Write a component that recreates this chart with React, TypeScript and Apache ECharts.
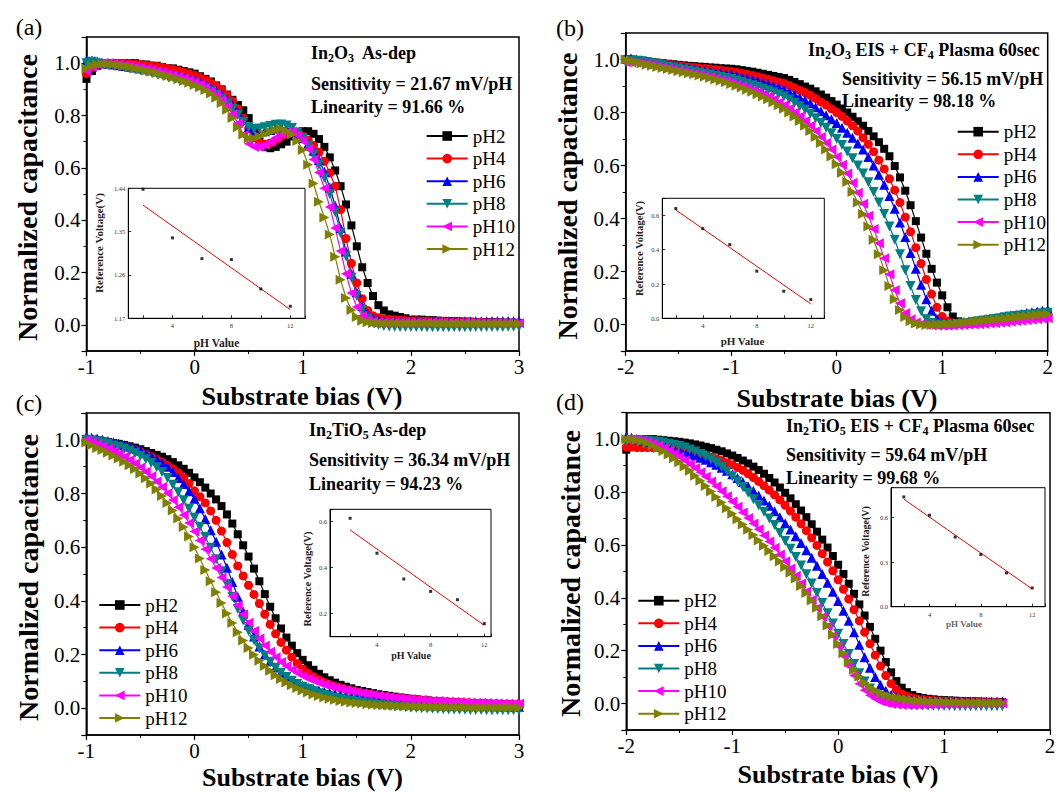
import React, { useEffect, useRef } from 'react';
import * as echarts from 'echarts';

// ---------- bias sweeps (V) ----------
const biasA = [
  -1,-0.95,-0.9,-0.85,-0.8,-0.75,-0.7,-0.65,-0.6,-0.55,
  -0.5,-0.45,-0.4,-0.35,-0.3,-0.25,-0.2,-0.15,-0.1,-0.05,
  0,0.05,0.1,0.15,0.2,0.25,0.3,0.35,0.4,0.45,
  0.5,0.55,0.6,0.65,0.7,0.75,0.8,0.85,0.9,0.95,
  1,1.05,1.1,1.15,1.2,1.25,1.3,1.35,1.4,1.45,
  1.5,1.55,1.6,1.65,1.7,1.75,1.8,1.85,1.9,1.95,
  2,2.05,2.1,2.15,2.2,2.25,2.3,2.35,2.4,2.45,
  2.5,2.55,2.6,2.65,2.7,2.75,2.8,2.85,2.9,2.95,
  3
];
const biasB = [
  -2,-1.95,-1.9,-1.85,-1.8,-1.75,-1.7,-1.65,-1.6,-1.55,
  -1.5,-1.45,-1.4,-1.35,-1.3,-1.25,-1.2,-1.15,-1.1,-1.05,
  -1,-0.95,-0.9,-0.85,-0.8,-0.75,-0.7,-0.65,-0.6,-0.55,
  -0.5,-0.45,-0.4,-0.35,-0.3,-0.25,-0.2,-0.15,-0.1,-0.05,
  0,0.05,0.1,0.15,0.2,0.25,0.3,0.35,0.4,0.45,
  0.5,0.55,0.6,0.65,0.7,0.75,0.8,0.85,0.9,0.95,
  1,1.05,1.1,1.15,1.2,1.25,1.3,1.35,1.4,1.45,
  1.5,1.55,1.6,1.65,1.7,1.75,1.8,1.85,1.9,1.95,
  2
];
const biasD = [
  -2,-1.95,-1.9,-1.85,-1.8,-1.75,-1.7,-1.65,-1.6,-1.55,
  -1.5,-1.45,-1.4,-1.35,-1.3,-1.25,-1.2,-1.15,-1.1,-1.05,
  -1,-0.95,-0.9,-0.85,-0.8,-0.75,-0.7,-0.65,-0.6,-0.55,
  -0.5,-0.45,-0.4,-0.35,-0.3,-0.25,-0.2,-0.15,-0.1,-0.05,
  0,0.05,0.1,0.15,0.2,0.25,0.3,0.35,0.4,0.45,
  0.5,0.55,0.6,0.65,0.7,0.75,0.8,0.85,0.9,0.95,
  1,1.05,1.1,1.15,1.2,1.25,1.3,1.35,1.4,1.45,
  1.5,1.55
];

// ---------- (a) In2O3 As-dep ----------
const a_pH2 = [
  0.94,0.97,0.99,1.0,1.0,1.0,1.0,1.0,1.0,1.0,
  0.995,0.995,0.99,0.99,0.985,0.98,0.98,0.975,0.97,0.965,
  0.96,0.95,0.94,0.93,0.915,0.9,0.88,0.86,0.84,0.82,
  0.79,0.75,0.7,0.68,0.675,0.68,0.69,0.7,0.72,0.73,
  0.74,0.74,0.73,0.71,0.68,0.64,0.59,0.53,0.46,0.38,
  0.3,0.22,0.16,0.11,0.075,0.055,0.04,0.035,0.03,0.025,
  0.02,0.02,0.02,0.018,0.018,0.016,0.015,0.015,0.014,0.013,
  0.012,0.012,0.011,0.01,0.01,0.01,0.009,0.008,0.008,0.008,
  0.007
];
const a_pH4 = [
  0.96,0.985,0.995,1.0,1.0,1.0,1.0,1.0,0.998,0.996,
  0.994,0.992,0.99,0.987,0.984,0.98,0.976,0.971,0.966,0.96,
  0.953,0.945,0.936,0.925,0.912,0.897,0.878,0.855,0.826,0.79,
  0.75,0.715,0.695,0.69,0.695,0.705,0.72,0.73,0.735,0.73,
  0.72,0.705,0.685,0.66,0.625,0.58,0.53,0.44,0.33,0.235,
  0.16,0.1,0.055,0.035,0.027,0.023,0.02,0.019,0.018,0.017,
  0.016,0.016,0.015,0.015,0.014,0.014,0.013,0.013,0.012,0.012,
  0.011,0.011,0.01,0.01,0.01,0.009,0.009,0.008,0.008,0.008,
  0.007
];
const a_pH6 = [
  1.01,1.01,1.005,1.0,0.998,0.995,0.992,0.989,0.986,0.983,
  0.98,0.977,0.973,0.969,0.965,0.96,0.955,0.95,0.945,0.94,
  0.934,0.927,0.918,0.908,0.895,0.88,0.862,0.84,0.812,0.782,
  0.755,0.742,0.737,0.74,0.745,0.75,0.753,0.75,0.742,0.73,
  0.713,0.692,0.665,0.63,0.585,0.525,0.455,0.37,0.28,0.195,
  0.125,0.072,0.04,0.025,0.018,0.015,0.014,0.013,0.013,0.013,
  0.013,0.013,0.013,0.013,0.013,0.013,0.013,0.013,0.013,0.014,
  0.014,0.014,0.014,0.014,0.014,0.015,0.015,0.015,0.015,0.015,
  0.015
];
const a_pH8 = [
  1.0,1.005,1.0,0.997,0.994,0.99,0.987,0.984,0.98,0.977,
  0.973,0.969,0.965,0.961,0.956,0.951,0.946,0.94,0.934,0.928,
  0.921,0.913,0.904,0.893,0.88,0.865,0.847,0.826,0.802,0.776,
  0.755,0.748,0.75,0.755,0.76,0.765,0.766,0.762,0.752,0.735,
  0.713,0.685,0.652,0.612,0.562,0.5,0.43,0.35,0.262,0.18,
  0.11,0.058,0.025,0.008,0.0,-0.004,-0.006,-0.007,-0.008,-0.008,
  -0.008,-0.008,-0.008,-0.009,-0.009,-0.009,-0.009,-0.009,-0.009,-0.009,
  -0.009,-0.009,-0.008,-0.008,-0.008,-0.008,-0.008,-0.008,-0.007,-0.007,
  -0.007
];
const a_pH10 = [
  0.97,0.985,0.995,1.0,1.0,0.998,0.996,0.993,0.99,0.987,
  0.983,0.979,0.975,0.97,0.965,0.96,0.954,0.948,0.941,0.934,
  0.926,0.917,0.906,0.893,0.877,0.858,0.835,0.806,0.77,0.725,
  0.692,0.68,0.68,0.688,0.7,0.715,0.728,0.737,0.738,0.725,
  0.703,0.672,0.632,0.582,0.522,0.45,0.37,0.282,0.195,0.122,
  0.068,0.034,0.018,0.012,0.01,0.009,0.009,0.009,0.009,0.009,
  0.009,0.009,0.009,0.009,0.009,0.009,0.008,0.008,0.008,0.008,
  0.008,0.008,0.008,0.007,0.007,0.007,0.007,0.007,0.007,0.006,
  0.006
];
const a_pH12 = [
  0.98,0.99,0.995,0.997,0.997,0.995,0.992,0.989,0.985,0.981,
  0.977,0.972,0.967,0.962,0.957,0.951,0.945,0.939,0.932,0.925,
  0.917,0.908,0.897,0.884,0.868,0.848,0.822,0.79,0.755,0.727,
  0.713,0.713,0.72,0.728,0.737,0.745,0.748,0.742,0.727,0.703,
  0.668,0.612,0.54,0.47,0.41,0.345,0.26,0.172,0.103,0.057,
  0.03,0.016,0.01,0.007,0.006,0.005,0.005,0.005,0.005,0.005,
  0.005,0.005,0.005,0.005,0.005,0.004,0.004,0.004,0.004,0.004,
  0.004,0.004,0.004,0.004,0.004,0.004,0.004,0.004,0.004,0.004,
  0.004
];

// ---------- (b) In2O3 EIS + CF4 plasma ----------
const b_pH2 = [
  1.0,1.0,0.998,0.995,0.993,0.99,0.988,0.986,0.984,0.982,
  0.98,0.978,0.976,0.975,0.973,0.972,0.97,0.969,0.967,0.966,
  0.965,0.963,0.96,0.957,0.954,0.95,0.946,0.942,0.938,0.934,
  0.93,0.923,0.915,0.907,0.898,0.89,0.88,0.868,0.856,0.843,
  0.83,0.815,0.8,0.784,0.767,0.75,0.73,0.71,0.688,0.663,
  0.635,0.598,0.555,0.505,0.45,0.39,0.328,0.267,0.21,0.158,
  0.11,0.065,0.03,0.012,0.005,0.004,0.005,0.007,0.01,0.012,
  0.015,0.018,0.02,0.022,0.025,0.027,0.03,0.032,0.035,0.037,
  0.04
];
const b_pH4 = [
  1.0,1.0,0.998,0.995,0.992,0.99,0.987,0.985,0.982,0.979,
  0.976,0.974,0.972,0.97,0.968,0.966,0.964,0.962,0.96,0.957,
  0.955,0.952,0.948,0.944,0.94,0.935,0.93,0.925,0.92,0.915,
  0.91,0.902,0.893,0.884,0.875,0.865,0.853,0.84,0.828,0.814,
  0.8,0.785,0.768,0.75,0.73,0.705,0.68,0.652,0.62,0.587,
  0.55,0.507,0.46,0.405,0.35,0.29,0.23,0.17,0.115,0.065,
  0.03,0.012,0.005,0.003,0.003,0.004,0.005,0.007,0.009,0.011,
  0.013,0.016,0.018,0.02,0.023,0.025,0.028,0.03,0.033,0.035,
  0.038
];
const b_pH6 = [
  1.005,1.005,1.0,0.997,0.993,0.99,0.986,0.983,0.98,0.977,
  0.973,0.97,0.967,0.964,0.961,0.958,0.955,0.952,0.95,0.947,
  0.944,0.94,0.935,0.93,0.925,0.92,0.914,0.908,0.901,0.895,
  0.888,0.878,0.868,0.857,0.846,0.835,0.82,0.805,0.79,0.775,
  0.76,0.742,0.724,0.705,0.683,0.66,0.632,0.6,0.565,0.527,
  0.485,0.437,0.385,0.33,0.27,0.21,0.15,0.095,0.052,0.022,
  0.008,0.004,0.004,0.006,0.008,0.01,0.013,0.016,0.019,0.022,
  0.025,0.028,0.031,0.034,0.037,0.04,0.043,0.046,0.049,0.052,
  0.055
];
const b_pH8 = [
  0.99,0.995,0.995,0.993,0.99,0.986,0.982,0.978,0.974,0.97,
  0.966,0.962,0.958,0.954,0.95,0.946,0.942,0.938,0.934,0.93,
  0.926,0.921,0.915,0.909,0.903,0.897,0.89,0.883,0.876,0.869,
  0.86,0.849,0.837,0.824,0.81,0.795,0.778,0.76,0.742,0.722,
  0.7,0.677,0.653,0.627,0.6,0.57,0.537,0.5,0.46,0.417,
  0.37,0.32,0.265,0.205,0.145,0.092,0.05,0.02,0.006,0.0,
  -0.002,-0.002,0.0,0.002,0.004,0.006,0.009,0.012,0.015,0.018,
  0.021,0.024,0.027,0.03,0.032,0.034,0.036,0.038,0.04,0.042,
  0.044
];
const b_pH10 = [
  0.99,0.99,0.988,0.985,0.982,0.978,0.974,0.97,0.966,0.962,
  0.958,0.954,0.95,0.946,0.942,0.938,0.933,0.928,0.923,0.918,
  0.912,0.906,0.899,0.892,0.884,0.876,0.868,0.859,0.849,0.838,
  0.827,0.814,0.8,0.785,0.768,0.75,0.73,0.708,0.685,0.66,
  0.633,0.603,0.57,0.535,0.497,0.456,0.41,0.36,0.307,0.25,
  0.19,0.13,0.08,0.043,0.02,0.008,0.002,-0.002,-0.004,-0.005,
  -0.005,-0.005,-0.004,-0.003,-0.002,-0.001,0.0,0.001,0.002,0.004,
  0.005,0.007,0.008,0.01,0.012,0.014,0.016,0.018,0.02,0.022,
  0.024
];
const b_pH12 = [
  1.0,0.995,0.99,0.985,0.98,0.976,0.972,0.968,0.964,0.96,
  0.956,0.952,0.948,0.944,0.94,0.935,0.93,0.925,0.92,0.914,
  0.908,0.901,0.894,0.886,0.878,0.869,0.86,0.85,0.839,0.827,
  0.814,0.8,0.785,0.768,0.75,0.73,0.708,0.685,0.66,0.634,
  0.605,0.573,0.538,0.5,0.46,0.417,0.37,0.32,0.265,0.205,
  0.145,0.095,0.055,0.028,0.012,0.004,0.0,-0.002,-0.002,-0.001,
  0.0,0.002,0.003,0.005,0.007,0.009,0.011,0.013,0.015,0.017,
  0.019,0.021,0.023,0.025,0.027,0.03,0.032,0.034,0.036,0.038,
  0.04
];

// ---------- (c) In2TiO5 As-dep ----------
const c_pH2 = [
  1.0,1.0,0.998,0.995,0.992,0.988,0.985,0.981,0.976,0.971,
  0.965,0.958,0.951,0.944,0.937,0.928,0.917,0.905,0.892,0.877,
  0.86,0.842,0.822,0.8,0.778,0.753,0.722,0.688,0.648,0.607,
  0.565,0.52,0.473,0.425,0.378,0.335,0.297,0.263,0.233,0.205,
  0.18,0.16,0.143,0.128,0.115,0.104,0.095,0.087,0.08,0.074,
  0.068,0.064,0.06,0.056,0.052,0.049,0.046,0.043,0.04,0.038,
  0.035,0.033,0.031,0.029,0.027,0.025,0.024,0.022,0.021,0.02,
  0.019,0.018,0.017,0.016,0.015,0.014,0.013,0.012,0.012,0.011,
  0.01
];
const c_pH4 = [
  1.0,1.0,0.997,0.994,0.99,0.986,0.981,0.976,0.97,0.963,
  0.955,0.947,0.938,0.928,0.917,0.905,0.892,0.877,0.86,0.837,
  0.81,0.788,0.765,0.735,0.7,0.66,0.617,0.573,0.53,0.493,
  0.458,0.424,0.39,0.35,0.312,0.277,0.245,0.216,0.19,0.166,
  0.146,0.13,0.117,0.106,0.096,0.088,0.081,0.075,0.07,0.065,
  0.06,0.056,0.052,0.049,0.046,0.043,0.04,0.038,0.036,0.034,
  0.032,0.03,0.029,0.027,0.026,0.025,0.024,0.023,0.022,0.021,
  0.02,0.019,0.018,0.018,0.017,0.016,0.016,0.015,0.015,0.014,
  0.014
];
const c_pH6 = [
  1.01,1.008,1.005,1.0,0.996,0.991,0.986,0.98,0.975,0.968,
  0.96,0.951,0.94,0.928,0.915,0.9,0.88,0.858,0.835,0.808,
  0.78,0.745,0.705,0.663,0.62,0.573,0.523,0.47,0.415,0.36,
  0.31,0.267,0.23,0.2,0.175,0.152,0.132,0.116,0.102,0.092,
  0.084,0.077,0.071,0.066,0.061,0.057,0.053,0.05,0.046,0.043,
  0.04,0.038,0.035,0.033,0.031,0.029,0.027,0.025,0.023,0.022,
  0.02,0.019,0.018,0.017,0.016,0.015,0.014,0.013,0.012,0.011,
  0.01,0.01,0.009,0.008,0.008,0.007,0.007,0.006,0.006,0.005,
  0.005
];
const c_pH8 = [
  1.0,0.998,0.994,0.99,0.985,0.979,0.973,0.966,0.958,0.95,
  0.94,0.928,0.914,0.898,0.88,0.858,0.833,0.805,0.775,0.743,
  0.71,0.675,0.638,0.598,0.555,0.51,0.463,0.415,0.37,0.327,
  0.288,0.253,0.222,0.195,0.171,0.15,0.132,0.116,0.102,0.09,
  0.08,0.071,0.063,0.056,0.05,0.044,0.039,0.035,0.031,0.027,
  0.024,0.021,0.018,0.016,0.013,0.011,0.009,0.007,0.005,0.004,
  0.002,0.001,0.0,-0.001,-0.002,-0.003,-0.004,-0.005,-0.005,-0.006,
  -0.006,-0.007,-0.007,-0.007,-0.008,-0.008,-0.008,-0.008,-0.008,-0.008,
  -0.008
];
const c_pH10 = [
  1.0,0.992,0.984,0.976,0.967,0.958,0.948,0.937,0.925,0.912,
  0.897,0.881,0.864,0.845,0.824,0.801,0.776,0.749,0.72,0.69,
  0.658,0.625,0.592,0.557,0.522,0.487,0.452,0.417,0.383,0.35,
  0.318,0.288,0.26,0.234,0.21,0.19,0.172,0.157,0.143,0.131,
  0.12,0.111,0.102,0.095,0.088,0.082,0.077,0.072,0.068,0.064,
  0.06,0.056,0.053,0.05,0.047,0.044,0.042,0.04,0.038,0.036,
  0.034,0.032,0.031,0.029,0.028,0.027,0.026,0.025,0.024,0.023,
  0.022,0.021,0.02,0.02,0.019,0.018,0.018,0.017,0.017,0.016,
  0.016
];
const c_pH12 = [
  0.99,0.98,0.97,0.962,0.952,0.942,0.93,0.918,0.905,0.891,
  0.875,0.857,0.837,0.815,0.791,0.765,0.737,0.707,0.675,0.64,
  0.6,0.558,0.515,0.473,0.432,0.392,0.353,0.317,0.283,0.252,
  0.224,0.199,0.177,0.157,0.139,0.123,0.109,0.096,0.085,0.075,
  0.066,0.058,0.051,0.045,0.04,0.035,0.031,0.027,0.024,0.021,
  0.019,0.017,0.015,0.013,0.012,0.011,0.01,0.009,0.008,0.007,
  0.006,0.006,0.005,0.005,0.004,0.004,0.004,0.003,0.003,0.003,
  0.003,0.002,0.002,0.002,0.002,0.002,0.002,0.002,0.002,0.002,
  0.002
];

// ---------- (d) In2TiO5 EIS + CF4 plasma ----------
const d_pH2 = [
  0.96,0.98,0.995,1.0,1.0,1.0,0.998,0.996,0.994,0.992,
  0.99,0.987,0.984,0.98,0.976,0.971,0.966,0.96,0.954,0.946,
  0.938,0.929,0.919,0.908,0.896,0.883,0.869,0.853,0.836,0.817,
  0.797,0.776,0.754,0.73,0.705,0.678,0.65,0.62,0.59,0.558,
  0.525,0.49,0.453,0.415,0.375,0.333,0.29,0.245,0.2,0.157,
  0.118,0.085,0.06,0.043,0.032,0.025,0.021,0.018,0.016,0.014,
  0.013,0.012,0.011,0.01,0.009,0.008,0.008,0.007,0.007,0.006,
  0.006,0.005
];
const d_pH4 = [
  0.97,0.97,0.968,0.968,0.968,0.968,0.968,0.967,0.966,0.963,
  0.96,0.956,0.952,0.947,0.942,0.937,0.932,0.926,0.919,0.911,
  0.903,0.893,0.882,0.869,0.855,0.84,0.824,0.807,0.789,0.77,
  0.75,0.728,0.705,0.68,0.654,0.627,0.598,0.567,0.535,0.502,
  0.468,0.432,0.395,0.355,0.313,0.27,0.226,0.183,0.142,0.106,
  0.075,0.052,0.036,0.027,0.021,0.017,0.015,0.013,0.012,0.011,
  0.01,0.009,0.008,0.008,0.007,0.007,0.006,0.006,0.005,0.005,
  0.005,0.005
];
const d_pH6 = [
  1.01,1.005,1.0,0.995,0.99,0.985,0.98,0.975,0.97,0.964,
  0.958,0.952,0.945,0.938,0.93,0.922,0.913,0.903,0.892,0.88,
  0.867,0.853,0.838,0.822,0.805,0.787,0.768,0.748,0.727,0.705,
  0.682,0.658,0.633,0.607,0.58,0.551,0.521,0.49,0.457,0.423,
  0.388,0.351,0.313,0.27,0.222,0.175,0.135,0.1,0.07,0.048,
  0.033,0.024,0.019,0.016,0.014,0.012,0.011,0.01,0.01,0.009,
  0.009,0.008,0.008,0.008,0.008,0.008,0.008,0.008,0.008,0.008,
  0.008,0.008
];
const d_pH8 = [
  0.99,0.995,0.996,0.995,0.994,0.992,0.99,0.987,0.983,0.979,
  0.974,0.968,0.961,0.953,0.944,0.934,0.923,0.91,0.895,0.878,
  0.86,0.84,0.819,0.797,0.773,0.749,0.725,0.7,0.675,0.645,
  0.615,0.585,0.554,0.522,0.489,0.454,0.418,0.38,0.342,0.303,
  0.264,0.225,0.187,0.15,0.115,0.083,0.057,0.037,0.023,0.013,
  0.006,0.002,-0.001,-0.003,-0.005,-0.006,-0.007,-0.008,-0.008,-0.009,
  -0.009,-0.009,-0.01,-0.01,-0.01,-0.01,-0.01,-0.01,-0.01,-0.01,
  -0.01,-0.01
];
const d_pH10 = [
  1.0,1.0,0.998,0.995,0.99,0.983,0.975,0.966,0.956,0.945,
  0.933,0.92,0.906,0.891,0.875,0.858,0.84,0.822,0.803,0.784,
  0.764,0.744,0.723,0.702,0.681,0.659,0.636,0.613,0.589,0.564,
  0.538,0.511,0.483,0.454,0.424,0.393,0.361,0.328,0.293,0.256,
  0.218,0.18,0.142,0.106,0.075,0.05,0.031,0.018,0.008,0.002,
  -0.002,-0.004,-0.005,-0.005,-0.005,-0.005,-0.004,-0.004,-0.003,-0.003,
  -0.002,-0.002,-0.002,-0.001,-0.001,-0.001,0.0,0.0,0.0,0.0,
  0.0,0.0
];
const d_pH12 = [
  1.0,1.0,0.997,0.992,0.985,0.976,0.966,0.955,0.942,0.928,
  0.913,0.897,0.88,0.862,0.843,0.823,0.802,0.781,0.76,0.739,
  0.718,0.697,0.677,0.657,0.637,0.617,0.597,0.577,0.557,0.537,
  0.516,0.495,0.473,0.445,0.418,0.39,0.362,0.33,0.295,0.26,
  0.225,0.19,0.158,0.128,0.102,0.08,0.063,0.05,0.04,0.033,
  0.027,0.022,0.019,0.016,0.013,0.011,0.01,0.009,0.008,0.007,
  0.006,0.005,0.005,0.004,0.004,0.003,0.003,0.003,0.002,0.002,
  0.002,0.002
];

// ---------- insets: reference voltage vs pH ----------
const pHValues = [2, 4, 6, 8, 10, 12];
const refA = [1.438, 1.337, 1.294, 1.292, 1.231, 1.195];
const refB = [0.64, 0.523, 0.43, 0.275, 0.158, 0.109];
const refC = [0.615, 0.463, 0.351, 0.297, 0.261, 0.157];
const refD = [0.738, 0.615, 0.468, 0.351, 0.227, 0.126];
const fitPH = [2, 12];
const fitA = [1.405, 1.188];
const fitB = [0.632, 0.084];
const fitC = [0.564, 0.149];
const fitD = [0.723, 0.119];

const seriesNames = ['pH2', 'pH4', 'pH6', 'pH8', 'pH10', 'pH12'];
const colors = ['#000000', '#FF0000', '#0000FF', '#008080', '#FF00FF', '#808000'];
const symbols = [
  'rect',
  'circle',
  'triangle',
  'path://M0,0L10,0L5,9Z',
  'path://M9,0L9,10L0,5Z',
  'path://M0,0L9,5L0,10Z',
];
const symbolSizes = [8, 9, 10, 10, 10, 10];

const SERIF = 'Liberation Serif';

function buildOption() {
  const mainGrids = [
    { left: 86.5, top: 37, width: 432.5, height: 314 },
    { left: 625.7, top: 33, width: 422, height: 318 },
    { left: 86.3, top: 413, width: 432.7, height: 322 },
    { left: 626.3, top: 412.7, width: 423.7, height: 317.3 },
  ];
  const insetGrids = [
    { left: 128.3, top: 188.3, width: 176.7, height: 130 },
    { left: 662.3, top: 198.3, width: 162, height: 120 },
    { left: 330, top: 509.3, width: 161, height: 127.4 },
    { left: 891, top: 487.7, width: 154, height: 119 },
  ];
  const grid: any[] = [
    ...mainGrids.map((g) => ({ ...g, show: true, borderColor: '#000', borderWidth: 1.5, backgroundColor: 'transparent' })),
    ...insetGrids.map((g) => ({ ...g, show: true, borderColor: '#000', borderWidth: 1, backgroundColor: '#fff', z: 3 })),
  ];

  const mainXRange = [[-1, 3], [-2, 2], [-1, 3], [-2, 2]];
  const axisLineMain = { show: true, onZero: false, lineStyle: { color: '#000', width: 1.5 } };
  const xAxis: any[] = mainXRange.map((r, i) => ({
    type: 'value', gridIndex: i, min: r[0], max: r[1], interval: 1,
    axisLine: axisLineMain,
    axisTick: { show: true, inside: false, length: 5, lineStyle: { color: '#000', width: 1.2 } },
    minorTick: { show: true, splitNumber: 2, length: 3, lineStyle: { color: '#000', width: 1 } },
    axisLabel: { color: '#000', fontSize: 21, fontFamily: SERIF, margin: 5 },
    splitLine: { show: false },
  }));
  const yAxis: any[] = mainXRange.map((_, i) => ({
    type: 'value', gridIndex: i, min: -0.1, max: 1.1, splitNumber: 6,
    axisLine: axisLineMain,
    axisTick: { show: true, inside: false, length: 5, lineStyle: { color: '#000', width: 1.2 } },
    minorTick: { show: true, splitNumber: 2, length: 3, lineStyle: { color: '#000', width: 1 } },
    axisLabel: {
      color: '#000', fontSize: 21, fontFamily: SERIF, margin: 6,
      formatter: (v: number) => (Math.round(v * 10) % 2 === 0 ? v.toFixed(1) : ''),
    },
    splitLine: { show: false },
  }));

  const stepFmt = (step: number, dec: number) => (v: number) => {
    const k = v / step;
    return Math.abs(k - Math.round(k)) < 1e-6 ? v.toFixed(dec) : '';
  };
  const insetX = [[1, 13], [1, 13], [0.5, 12.5], [1, 13]];
  const insetY: any[] = [
    { min: 1.17, max: 1.44, interval: 0.09, formatter: (v: number) => v.toFixed(2) },
    { min: 0, max: 0.7, interval: 0.2, formatter: stepFmt(0.2, 1) },
    { min: 0.1, max: 0.654, splitNumber: 3, formatter: stepFmt(0.2, 1) },
    { min: 0, max: 0.8, interval: 0.3, formatter: stepFmt(0.3, 1) },
  ];
  insetX.forEach((r, k) => {
    xAxis.push({
      type: 'value', gridIndex: 4 + k, min: r[0], max: r[1], splitNumber: 6, z: 4,
      axisLine: { show: true, onZero: false, lineStyle: { color: '#000', width: 1 } },
      axisTick: { show: true, inside: true, length: 3, lineStyle: { color: '#000', width: 0.8 } },
      axisLabel: { color: '#333', fontSize: 6.5, fontFamily: SERIF, margin: 4, formatter: stepFmt(4, 0) },
      splitLine: { show: false },
    });
  });
  insetY.forEach((c, k) => {
    const { formatter, ...rest } = c;
    yAxis.push({
      type: 'value', gridIndex: 4 + k, ...rest, z: 4,
      axisLine: { show: true, onZero: false, lineStyle: { color: '#000', width: 1 } },
      axisTick: { show: true, inside: true, length: 3, lineStyle: { color: '#000', width: 0.8 } },
      axisLabel: { color: '#333', fontSize: 6.5, fontFamily: SERIF, margin: 3, formatter },
      splitLine: { show: false },
    });
  });

  const panels = [
    { bias: biasA, sets: [a_pH2, a_pH4, a_pH6, a_pH8, a_pH10, a_pH12] },
    { bias: biasB, sets: [b_pH2, b_pH4, b_pH6, b_pH8, b_pH10, b_pH12] },
    { bias: biasA, sets: [c_pH2, c_pH4, c_pH6, c_pH8, c_pH10, c_pH12] },
    { bias: biasD, sets: [d_pH2, d_pH4, d_pH6, d_pH8, d_pH10, d_pH12] },
  ];
  const series: any[] = [];
  panels.forEach((p, gi) => {
    p.sets.forEach((vals, i) => {
      series.push({
        type: 'line', name: seriesNames[i], xAxisIndex: gi, yAxisIndex: gi,
        data: p.bias.map((x, j) => [x, vals[j]]),
        symbol: symbols[i], symbolSize: symbolSizes[i], showAllSymbol: true,
        lineStyle: { color: colors[i], width: 1.2 },
        itemStyle: { color: colors[i] },
        silent: true, z: 2,
      });
    });
  });
  const insetRefs = [refA, refB, refC, refD];
  const insetFits = [fitA, fitB, fitC, fitD];
  insetRefs.forEach((ref, k) => {
    series.push({
      type: 'line', name: 'fit' + k, xAxisIndex: 4 + k, yAxisIndex: 4 + k,
      data: fitPH.map((p, j) => [p, insetFits[k][j]]),
      symbol: 'none', lineStyle: { color: '#FF0000', width: 1 }, silent: true, z: 5,
    });
    series.push({
      type: 'scatter', name: 'ref' + k, xAxisIndex: 4 + k, yAxisIndex: 4 + k,
      data: pHValues.map((p, j) => [p, ref[j]]),
      symbol: 'rect', symbolSize: 3, itemStyle: { color: '#000' }, silent: true, z: 6,
    });
  });

  const legendPos = [
    { left: 425.7, top: 126 },
    { left: 956.7, top: 121.7 },
    { left: 98.3, top: 595 },
    { left: 637.3, top: 590.7 },
  ];
  const legend = legendPos.map((pos) => ({
    ...pos, data: seriesNames, orient: 'vertical', selectedMode: false, padding: 0,
    itemWidth: 41, itemHeight: 12, itemGap: 2.6,
    lineStyle: { width: 2 },
    textStyle: { fontSize: 19, fontFamily: SERIF, color: '#000', lineHeight: 20 },
  }));

  const txt = (x: number, y: number, text: string, size: number, weight: string, extra: any = {}) => ({
    type: 'text', x, y, silent: true, z: 10, ...extra,
    style: {
      text, fontSize: size, fontWeight: weight, fontFamily: SERIF, fill: extra.fill || '#000',
      align: extra.align || 'center', verticalAlign: 'middle',
    },
  });
  const richStyles = {
    b: { fontSize: 18, fontWeight: 'bold', fontFamily: SERIF, fill: '#000', lineHeight: 22 },
    s: { fontSize: 12, fontWeight: 'bold', fontFamily: SERIF, fill: '#000', lineHeight: 12, verticalAlign: 'bottom' },
  };
  const richText = (x: number, y: number, text: string) => ({
    type: 'text', x, y, silent: true, z: 10,
    style: { text, rich: richStyles, align: 'left', verticalAlign: 'middle', fontSize: 18, fontWeight: 'bold', fontFamily: SERIF, fill: '#000' },
  });

  const graphic: any[] = [
    txt(29, 27, '(a)', 24, 'normal'),
    txt(570, 28, '(b)', 24, 'normal'),
    txt(29, 403, '(c)', 24, 'normal'),
    txt(570, 402, '(d)', 24, 'normal'),
    txt(27, 197.5, 'Normalized capacitance', 28, 'bold', { rotation: Math.PI / 2 }),
    txt(567, 196, 'Normalized capacitance', 28, 'bold', { rotation: Math.PI / 2 }),
    txt(28, 577.5, 'Normalized capacitance', 28, 'bold', { rotation: Math.PI / 2 }),
    txt(570, 573.5, 'Normalized capacitance', 28, 'bold', { rotation: Math.PI / 2 }),
    txt(302, 396, 'Substrate bias (V)', 26, 'bold'),
    txt(837, 398, 'Substrate bias (V)', 26, 'bold'),
    txt(302.5, 777.5, 'Substrate bias (V)', 26, 'bold'),
    txt(838, 774, 'Substrate bias (V)', 26, 'bold'),
    richText(311, 53, '{b|In}{s|2}{b|O}{s|3}{b|  As-dep}'),
    txt(311, 84, 'Sensitivity = 21.67 mV/pH', 18, 'bold', { align: 'left' }),
    txt(311, 107, 'Linearity = 91.66 %', 18, 'bold', { align: 'left' }),
    richText(808, 50, '{b|In}{s|2}{b|O}{s|3}{b| EIS + CF}{s|4}{b| Plasma 60sec}'),
    txt(842, 79, 'Sensitivity = 56.15 mV/pH', 18, 'bold', { align: 'left' }),
    txt(842, 101, 'Linearity = 98.18 %', 18, 'bold', { align: 'left' }),
    richText(309, 430, '{b|In}{s|2}{b|TiO}{s|5}{b| As-dep}'),
    txt(309, 460, 'Sensitivity = 36.34 mV/pH', 18, 'bold', { align: 'left' }),
    txt(309, 484, 'Linearity = 94.23 %', 18, 'bold', { align: 'left' }),
    richText(786, 426, '{b|In}{s|2}{b|TiO}{s|5}{b| EIS + CF}{s|4}{b| Plasma 60sec}'),
    txt(786, 455, 'Sensitivity = 59.64 mV/pH', 18, 'bold', { align: 'left' }),
    txt(786, 478, 'Linearity = 99.68 %', 18, 'bold', { align: 'left' }),
    // inset axis titles
    txt(216.5, 343, 'pH Value', 11.5, 'bold', { fill: '#222' }),
    txt(99, 243, 'Reference Voltage(V)', 11, 'bold', { rotation: Math.PI / 2, fill: '#222' }),
    txt(742.5, 341, 'pH Value', 11, 'bold', { fill: '#222' }),
    txt(639, 248.5, 'Reference Voltage(V)', 10.5, 'bold', { rotation: Math.PI / 2, fill: '#222' }),
    txt(411, 655, 'pH Value', 10, 'bold', { fill: '#222' }),
    txt(307.5, 579, 'Reference Voltage(V)', 10.5, 'bold', { rotation: Math.PI / 2, fill: '#222' }),
    txt(964, 624, 'pH Value', 9, 'bold', { fill: '#666' }),
    txt(865, 551.5, 'Reference Voltage(V)', 10, 'bold', { rotation: Math.PI / 2, fill: '#222' }),
  ];

  return {
    animation: false,
    backgroundColor: '#ffffff',
    textStyle: { fontFamily: SERIF },
    grid, xAxis, yAxis, series, legend, graphic,
  };
}

export default function App() {
  const ref = useRef<HTMLDivElement>(null);
  useEffect(() => {
    if (!ref.current) return;
    const chart = echarts.init(ref.current, null, { renderer: 'svg' });
    chart.setOption(buildOption() as any);
    return () => chart.dispose();
  }, []);
  return (
    <div
      ref={ref}
      style={{ position: 'absolute', left: 0, top: 0, width: 1061, height: 792, background: '#fff' }}
    />
  );
}
